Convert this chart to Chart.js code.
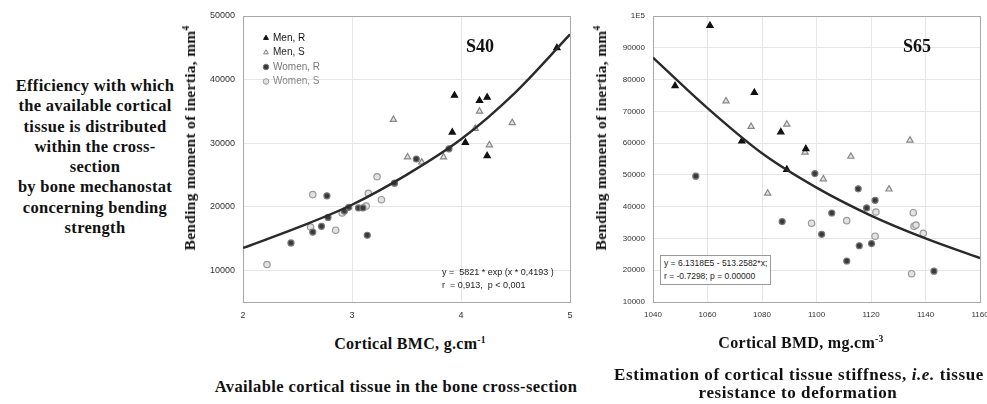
<!DOCTYPE html>
<html>
<head>
<meta charset="utf-8">
<script src="https://cdn.jsdelivr.net/npm/chart.js@4.4.1/dist/chart.umd.min.js"></script>
<style>
  html, body { margin:0; padding:0; background:#fff; overflow:hidden; width:987px; height:404px; }
  body { position:relative; font-family:"Liberation Serif", serif; color:#111; }
  .t { position:absolute; font-weight:bold; white-space:nowrap; transform:translate(-50%,-50%); }
  .t sup { font-size:60%; vertical-align:0.6em; line-height:0; }
  .yt { transform:translate(-50%,-50%) rotate(-90deg); letter-spacing:0.3px; }
  #side { position:absolute; left:0; top:76px; width:190px; text-align:center; font-weight:bold; font-size:16.5px; letter-spacing:0.3px; line-height:20.3px; }
  .eq { position:absolute; font-family:"Liberation Sans", sans-serif; font-size:9px; color:#222; white-space:nowrap; line-height:12.5px; }
  #eq2 { border:1px solid #999; padding:1px 3px; font-size:8.5px; line-height:13px; background:#fff; }
  canvas { position:absolute; top:0; }
</style>
</head>
<body>
<div id="side">Efficiency with which<br>the available cortical<br>tissue is distributed<br>within the cross-<br>section<br>by bone mechanostat<br>concerning bending<br>strength</div>

<canvas id="c1" width="420" height="330" style="left:175px"></canvas>
<canvas id="c2" width="420" height="330" style="left:585px"></canvas>

<div class="t yt" style="left:190px; top:138px; font-size:15.5px">Bending moment of inertia, mm<sup>4</sup></div>
<div class="t yt" style="left:601px; top:138px; font-size:15.5px">Bending moment of inertia, mm<sup>4</sup></div>
<div class="t" style="left:410px; top:344px; font-size:16px; letter-spacing:0.3px">Cortical BMC, g.cm<sup>-1</sup></div>
<div class="t" style="left:801px; top:343px; font-size:16px; letter-spacing:0.3px">Cortical BMD, mg.cm<sup>-3</sup></div>
<div class="t" style="left:396px; top:387px; font-size:16.5px; letter-spacing:0.4px">Available cortical tissue in the bone cross-section</div>
<div class="t" style="left:799px; top:375px; font-size:17px; letter-spacing:0.6px">Estimation of cortical tissue stiffness, <i>i.e.</i> tissue</div>
<div class="t" style="left:798px; top:393px; font-size:17px; letter-spacing:0.6px">resistance to deformation</div>
<div class="t" style="left:480px; top:46px; font-size:18px">S40</div>
<div class="t" style="left:917px; top:46px; font-size:18px">S65</div>
<div class="eq" style="left:442px; top:266px">y =&nbsp; 5821 * exp (x * 0,4193 )<br>r&nbsp; = 0,913,&nbsp; p &lt; 0,001</div>
<div class="eq" id="eq2" style="left:660px; top:255px">y = 6.1318E5 - 513.2582*x;<br>r = -0.7298; p = 0.00000</div>

<script>
// S40: cortical BMC (g/cm) vs bending moment of inertia (mm4)
const bmcTicks = [2, 3, 4, 5];
const bmcInertiaTicks = [10000, 20000, 30000, 40000, 50000];
const bmcInertiaMin = 5000;
const menR_bmc_x = [3.94, 3.92, 4.04, 4.17, 4.24, 4.88, 4.24];
const menR_bmc_y = [37500, 31700, 30100, 36700, 37200, 45000, 28000];
const menS_bmc_x = [3.38, 4.17, 4.13, 4.47, 4.26, 3.51, 3.64, 3.84];
const menS_bmc_y = [33700, 35000, 32300, 33200, 29700, 27800, 27000, 27800];
const womenR_bmc_x = [3.59, 3.89, 3.39, 2.77, 3.06, 3.10, 2.97, 2.93, 2.78, 2.72, 2.64, 3.14, 2.44];
const womenR_bmc_y = [27500, 29100, 23700, 21700, 19800, 19800, 19900, 19300, 18300, 16900, 16000, 15500, 14300];
const womenS_bmc_x = [3.23, 3.15, 2.64, 3.27, 3.13, 2.91, 2.62, 2.85, 2.22];
const womenS_bmc_y = [24700, 22100, 21900, 21100, 20100, 19000, 16800, 16300, 10900];
const fit_bmc_x = [2, 2.5, 3, 3.5, 4, 4.5, 5];
const fit_bmc_y = [13500, 16700, 20300, 25000, 30600, 38000, 47100];

// S65: cortical BMD (mg/cm3) vs bending moment of inertia (mm4)
const bmdTicks = [1040, 1060, 1080, 1100, 1120, 1140, 1160];
const bmdInertiaTicks = [10000, 20000, 30000, 40000, 50000, 60000, 70000, 80000, 90000, 100000];
const menR_bmd_x = [1060.9, 1048.1, 1077.2, 1086.9, 1072.6, 1096.1, 1089.1];
const menR_bmd_y = [97000, 78000, 75900, 63500, 60600, 58200, 51700];
const menS_bmd_x = [1066.8, 1076.0, 1089.1, 1134.3, 1095.8, 1112.6, 1102.5, 1082.1, 1126.6];
const menS_bmd_y = [73200, 65200, 65900, 60900, 57100, 55800, 48700, 44200, 45500];
const womenR_bmd_x = [1055.7, 1099.4, 1115.3, 1121.5, 1118.4, 1105.6, 1087.4, 1101.9, 1115.7, 1120.2, 1111.1, 1143.1];
const womenR_bmd_y = [49600, 50400, 45600, 42000, 39600, 38000, 35300, 31300, 27700, 28400, 22900, 19700];
const womenS_bmd_x = [1121.8, 1135.5, 1098.2, 1111.1, 1135.8, 1136.5, 1139.2, 1121.5, 1134.9];
const womenS_bmd_y = [38300, 38100, 34800, 35600, 33800, 34200, 31600, 30700, 18900];
const fit_bmd_x = [1040, 1060, 1080, 1100, 1120, 1140, 1160];
const fit_bmd_y = [86900, 71000, 56800, 46000, 37200, 30000, 23800];

const groups = [
  { label: 'Men, R',   style: 'triangle', fill: '#111', stroke: '#111', text: '#111', r: 3.6 },
  { label: 'Men, S',   style: 'triangle', fill: '#e4e4e4', stroke: '#888', text: '#222', r: 3.6 },
  { label: 'Women, R', style: 'circle',   fill: '#3a3a3a', stroke: '#777', text: '#777', r: 3 },
  { label: 'Women, S', style: 'circle',   fill: '#e2e2e2', stroke: '#9a9a9a', text: '#888', r: 3.2 },
];

function pts(xs, ys){
  return xs.map((x, i) => ({ x: x, y: ys[i] }));
}

function scatterSets(series){
  return series.map((s, i) => {
    const g = groups[i];
    return {
      type: 'scatter', label: g.label, data: pts(s[0], s[1]),
      pointStyle: g.style, pointRadius: g.r, pointBackgroundColor: g.fill,
      pointBorderColor: g.stroke, pointBorderWidth: 1.2, order: 2,
    };
  });
}

function fitSet(xs, ys){
  return {
    type: 'line', label: 'fit', data: pts(xs, ys), borderColor: '#2a2a2a', borderWidth: 2.4,
    pointRadius: 0, cubicInterpolationMode: 'monotone', fill: false, order: 1,
  };
}

function scale(ticks, fontSize, fmt, minOverride){
  const lo = (minOverride != null) ? minOverride : ticks[0];
  const hi = ticks[ticks.length - 1];
  return {
    type: 'linear', min: lo, max: hi,
    afterBuildTicks: s => { s.ticks = ticks.map(v => ({ value: v })); },
    grid: {
      drawTicks: false,
      color: c => (c.tick && (c.tick.value === lo || c.tick.value === hi)) ? '#a8a8a8' : '#e6e6e6',
      lineWidth: 1,
    },
    border: { display: true, color: '#a8a8a8' },
    ticks: {
      color: '#333', padding: 8, maxRotation: 0, autoSkip: false,
      font: { family: 'Liberation Sans', size: fontSize },
      callback: fmt || (v => v),
    },
  };
}

// legend drawn inside the plot, top-left, like the original
const insideLegend = {
  id: 'insideLegend',
  afterDraw(chart, args, opts){
    if (!opts.show) return;
    const ctx = chart.ctx;
    const a = chart.chartArea;
    ctx.save();
    ctx.font = '10px "Liberation Sans"';
    ctx.textBaseline = 'middle';
    groups.forEach((g, i) => {
      const x = a.left + 23, y = a.top + 22 + i * 14.5;
      ctx.fillStyle = g.fill; ctx.strokeStyle = g.stroke; ctx.lineWidth = 1;
      Chart.helpers.drawPoint(ctx, { pointStyle: g.style, radius: 2.8, borderWidth: 1 }, x, y);
      ctx.fillStyle = g.text;
      ctx.fillText(g.label, x + 7, y);
    });
    ctx.restore();
  }
};

function makeChart(id, series, fit, xTicks, yTicks, yMin, fontSize, yFmt, legend){
  const xs = scale(xTicks, fontSize);
  const ys = scale(yTicks, fontSize, yFmt, yMin);
  xs.afterFit = s => { s.height = 28; };
  ys.afterFit = s => { s.width = 68; };
  return new Chart(document.getElementById(id), {
    data: { datasets: scatterSets(series).concat([fitSet(fit[0], fit[1])]) },
    options: {
      responsive: false, animation: false,
      layout: { padding: { left: 0, right: 25, top: 16, bottom: 0 } },
      plugins: { legend: { display: false }, tooltip: { enabled: false }, insideLegend: { show: legend } },
      scales: { x: xs, y: ys },
    },
    plugins: [insideLegend],
  });
}

makeChart('c1',
  [[menR_bmc_x, menR_bmc_y], [menS_bmc_x, menS_bmc_y], [womenR_bmc_x, womenR_bmc_y], [womenS_bmc_x, womenS_bmc_y]],
  [fit_bmc_x, fit_bmc_y], bmcTicks, bmcInertiaTicks, bmcInertiaMin, 9, null, true);

makeChart('c2',
  [[menR_bmd_x, menR_bmd_y], [menS_bmd_x, menS_bmd_y], [womenR_bmd_x, womenR_bmd_y], [womenS_bmd_x, womenS_bmd_y]],
  [fit_bmd_x, fit_bmd_y], bmdTicks, bmdInertiaTicks, null, 8, v => v === 100000 ? '1E5' : v, false);
</script>
</body>
</html>
